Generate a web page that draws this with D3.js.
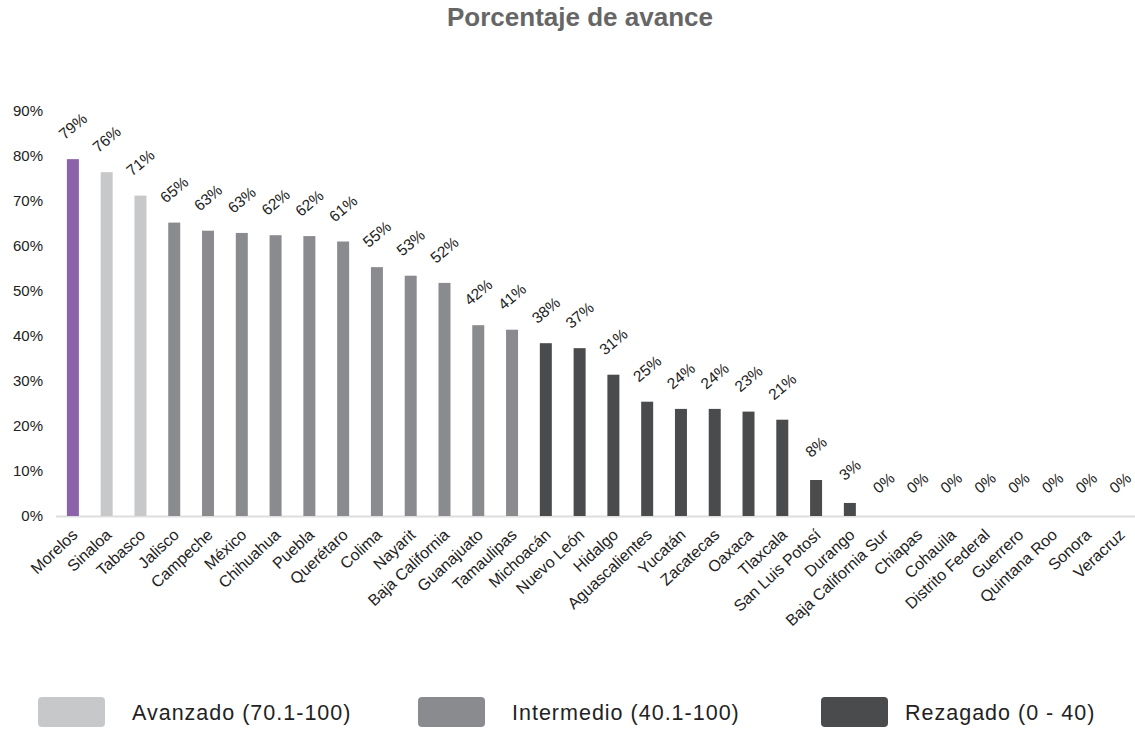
<!DOCTYPE html>
<html>
<head>
<meta charset="utf-8">
<script src="https://cdn.jsdelivr.net/npm/d3@7/dist/d3.min.js"></script>
<style>
  html, body { margin: 0; padding: 0; background: #fff; }
  svg { display: block; font-family: "Liberation Sans", Arial, Helvetica, sans-serif; }
</style>
</head>
<body>
<svg id="chart" width="1135" height="730"></svg>
<script>
const states = ["Morelos","Sinaloa","Tabasco","Jalisco","Campeche","México","Chihuahua","Puebla","Querétaro","Colima","Nayarit","Baja California","Guanajuato","Tamaulipas","Michoacán","Nuevo León","Hidalgo","Aguascalientes","Yucatán","Zacatecas","Oaxaca","Tlaxcala","San Luis Potosí","Durango","Baja California Sur","Chiapas","Cohauila","Distrito Federal","Guerrero","Quintana Roo","Sonora","Veracruz"];
const avance = [79.3,76.4,71.2,65.2,63.4,62.9,62.4,62.2,61.0,55.3,53.4,51.8,42.4,41.4,38.4,37.3,31.4,25.4,23.8,23.8,23.2,21.4,8.0,2.9,0,0,0,0,0,0,0,0];
const grupo = ["destacado","avanzado","avanzado","intermedio","intermedio","intermedio","intermedio","intermedio","intermedio","intermedio","intermedio","intermedio","intermedio","intermedio","rezagado","rezagado","rezagado","rezagado","rezagado","rezagado","rezagado","rezagado","rezagado","rezagado","rezagado","rezagado","rezagado","rezagado","rezagado","rezagado","rezagado","rezagado"];
const yTicks = [0,10,20,30,40,50,60,70,80,90];
const legendKeys = ["avanzado","intermedio","rezagado"];
const legendLabels = ["Avanzado (70.1-100)","Intermedio (40.1-100)","Rezagado (0 - 40)"];
const title = "Porcentaje de avance";

const colors = {destacado:"#8c62aa", avanzado:"#c7c8ca", intermedio:"#8a8b8e", rezagado:"#4a4b4d"};

const svg = d3.select("#chart");
const x = d3.scaleBand().domain(states).range([56, 1137]).paddingInner(0.645).paddingOuter(0.3225);
const y = d3.scaleLinear().domain([0, 90]).range([516, 111]);

svg.append("text").attr("x", 580).attr("y", 26).attr("text-anchor","middle")
  .attr("font-size", 26).attr("font-weight","bold").attr("fill","#666").text(title);

// y axis labels
const yAxis = d3.axisLeft(y).tickValues(yTicks).tickFormat(d => d + "%").tickSize(0).tickPadding(0);
const yg = svg.append("g").attr("transform","translate(43,0)").call(yAxis);
yg.select(".domain").remove();
yg.selectAll("text").attr("font-size",15).attr("fill","#222").attr("font-family","inherit");

// baseline
svg.append("line").attr("x1",56).attr("x2",1135).attr("y1",y(0)+0.5).attr("y2",y(0)+0.5)
  .attr("stroke","#dedede").attr("stroke-width",2);

// bars
svg.append("g").selectAll("rect").data(states).join("rect")
  .attr("x", d => x(d))
  .attr("y", (d,i) => y(avance[i]))
  .attr("width", x.bandwidth())
  .attr("height", (d,i) => y(0) - y(avance[i]))
  .attr("fill", (d,i) => colors[grupo[i]]);

// value labels
svg.append("g").selectAll("text").data(states).join("text")
  .attr("transform", (d,i) => `translate(${x(d)+x.bandwidth()/2},${y(avance[i])-33}) rotate(-40)`)
  .attr("text-anchor","middle").attr("dy","0.35em")
  .attr("font-size",15.5).attr("fill","#222")
  .text((d,i) => Math.round(avance[i]) + "%");

// x labels
const xAxis = d3.axisBottom(x).tickSize(0).tickPadding(0);
const xg = svg.append("g").attr("transform",`translate(0,${y(0)})`).call(xAxis);
xg.select(".domain").remove();
xg.selectAll("text")
  .attr("font-size",16).attr("fill","#222").attr("font-family","inherit")
  .attr("text-anchor","end").attr("dy","0.35em").attr("y",0)
  .attr("transform","translate(2,16) rotate(-43)");

// legend
const legX = [38, 418, 821];
const lg = svg.append("g").selectAll("g").data(legendKeys).join("g")
  .attr("transform",(d,i) => `translate(${legX[i]},697)`);
lg.append("rect").attr("width",67).attr("height",30).attr("rx",4).attr("fill", d => colors[d]);
lg.append("text").attr("x",(d,i) => i===2 ? 84 : 94).attr("y",15).attr("dy","0.35em")
  .attr("font-size",21.5).attr("letter-spacing","1px").attr("fill","#222")
  .text((d,i) => legendLabels[i]);
</script>
</body>
</html>
